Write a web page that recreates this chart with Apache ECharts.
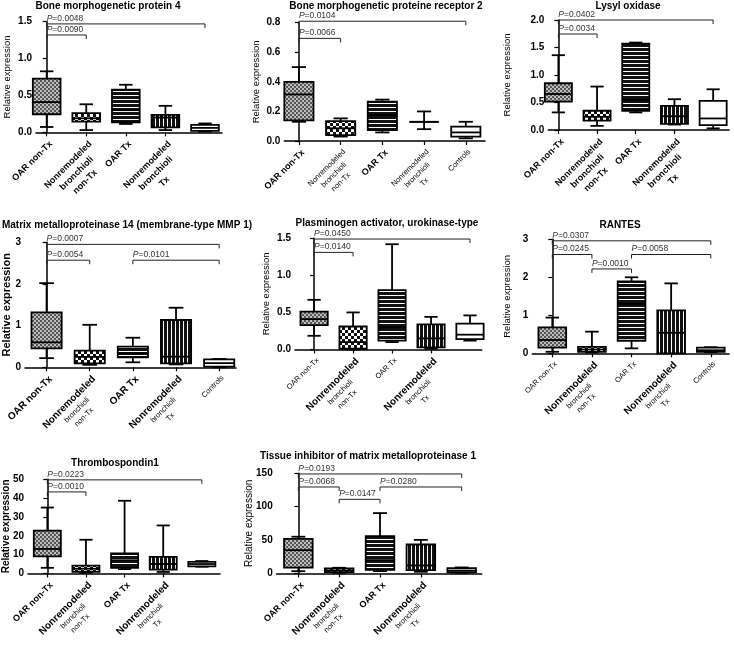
<!DOCTYPE html>
<html><head><meta charset="utf-8">
<script src="https://cdn.jsdelivr.net/npm/echarts@6/dist/echarts.min.js"></script>
<style>html,body{margin:0;padding:0;background:#fff}#c{width:734px;height:653px}</style>
</head><body><div id="c"></div>
<script>
// ---------- DATA ----------
const groups = ['OAR non-Tx', 'Nonremodeled\nbronchioli\nnon-Tx', 'OAR Tx', 'Nonremodeled\nbronchioli\nTx', 'Controls'];
// each row: [min, q1, median, q3, max]
const bmp4 = [[0.072,0.245,0.41,0.727,0.827],[0.03,0.145,0.19,0.26,0.38],[0.113,0.136,0.30,0.577,0.645],[0.03,0.068,0.20,0.236,0.359],[0.01,0.02,0.06,0.10,0.12]];
const bmpr2 = [[0.13,0.14,0.315,0.40,0.50],[0.03,0.04,0.086,0.135,0.153],[0.058,0.074,0.175,0.266,0.28],[0.08,0.13,0.13,0.13,0.20],[0.018,0.03,0.058,0.097,0.13]];
const lox = [[0.32,0.515,0.655,0.85,1.36],[0.075,0.17,0.24,0.35,0.79],[0.32,0.35,0.55,1.57,1.59],[0.10,0.11,0.25,0.44,0.56],[0.03,0.09,0.21,0.53,0.74]];
const mmp14 = [[0.22,0.455,0.6,1.32,2.02],[0.06,0.095,0.25,0.40,1.02],[0.12,0.24,0.335,0.495,0.71],[0.07,0.095,0.255,1.135,1.43],[0.0,0.015,0.1,0.19,0.2]];
const upa = [[0.185,0.33,0.41,0.51,0.67],[0.0,0.01,0.1,0.31,0.5],[0.10,0.12,0.30,0.80,1.42],[0.01,0.03,0.15,0.34,0.44],[0.12,0.14,0.20,0.35,0.46]];
const rantes = [[0.04,0.15,0.35,0.68,0.94],[0.02,0.04,0.10,0.17,0.57],[0.13,0.33,1.3,1.89,2.0],[0.0,0.0,0.54,1.13,1.84],[0.03,0.04,0.08,0.15,0.16]];
const thbs1 = [[3,9.1,13,22.7,35],[0.3,0.9,2.5,4.2,17.9],[2.3,3,7,10.7,38.6],[0.8,2,5,8.8,25.5],[3.6,3.8,5,6.2,6.6]];
const timp1 = [[3.4,8.6,34.9,51.7,55],[1,2.1,4.5,7.7,8.5],[3.5,5.5,20,56,90.4],[2.5,5,12,43.4,50.3],[1,1.5,4,7.8,9]];
// significance brackets: [fromGroup, toGroup, yLevel, p-value]
const bmp4P = [[0,4,1.47,'0.0048'],[0,1,1.32,'0.0090']];
const bmpr2P = [[0,4,0.81,'0.0104'],[0,1,0.694,'0.0066']];
const loxP = [[0,4,2.0,'0.0402'],[0,1,1.745,'0.0034']];
const mmp14P = [[0,4,2.95,'0.0007'],[0,1,2.57,'0.0054'],[2,4,2.57,'0.0101']];
const upaP = [[0,4,1.49,'0.0450'],[0,1,1.31,'0.0140']];
const rantesP = [[0,4,2.96,'0.0307'],[0,1,2.6,'0.0245'],[2,4,2.6,'0.0058'],[1,2,2.22,'0.0010']];
const thbs1P = [[0,4,49.7,'0.0223'],[0,1,43.3,'0.0010']];
const timp1P = [[0,4,149,'0.0193'],[0,1,129.5,'0.0068'],[2,4,129.5,'0.0280'],[1,2,111,'0.0147']];
// y-axis ticks: [max, interval, decimals]
const bmp4Y = [1.5,0.5,1], bmpr2Y = [0.8,0.2,1], loxY = [2,0.5,1], mmp14Y = [3,1,0];
const upaY = [1.5,0.5,1], rantesY = [3,1,0], thbs1Y = [50,10,0], timp1Y = [150,50,0];

// ---------- STYLE / LAYOUT ----------
const FF = '"Liberation Sans", Arial, sans-serif';
function mkPattern(w, h, draw) {
  const c = document.createElement('canvas'); c.width = w; c.height = h;
  const g = c.getContext('2d'); draw(g);
  return {image: c, repeat: 'repeat'};
}
const patterns = [
  mkPattern(4,4,g=>{g.fillStyle='#bdbdbd';g.fillRect(0,0,4,4);g.fillStyle='#555';g.fillRect(0,0,2,2);g.fillRect(2,2,2,2);}),
  mkPattern(6,6,g=>{g.fillStyle='#111';g.fillRect(0,0,6,6);g.fillStyle='#fff';g.fillRect(0,0,3,3);g.fillRect(3,3,3,3);}),
  mkPattern(4,4,g=>{g.fillStyle='#111';g.fillRect(0,0,4,4);g.fillStyle='#fff';g.fillRect(0,3,4,1);}),
  mkPattern(4,4,g=>{g.fillStyle='#111';g.fillRect(0,0,4,4);g.fillStyle='#fff';g.fillRect(3,0,1,4);}),
  '#ffffff'
];
const panels = [
  {title:'Bone morphogenetic protein 4', tx:108, ty:1, d:bmp4, p:bmp4P, y:bmp4Y, left:36, top:21.7, width:186, height:110.6, xmin:-0.27, xmax:4.43, gap:24, nfs:9.5, nfw:'normal', first:['M','M','M','M','M'], rest:'M'},
  {title:'Bone morphogenetic proteine receptor 2', tx:386, ty:1, d:bmpr2, p:bmpr2P, y:bmpr2Y, left:284.3, top:22.7, width:200.7, height:118.3, xmin:-0.35, xmax:4.46, gap:23, nfs:9.5, nfw:'normal', first:['M','S','M','S','S'], rest:'S'},
  {title:'Lysyl oxidase', tx:628, ty:1, d:lox, p:loxP, y:loxY, left:548.3, top:20, width:180.7, height:110, xmin:-0.26, xmax:4.41, gap:36, nfs:9.5, nfw:'normal', first:['M','M','M','M','M'], rest:'M'},
  {title:'Matrix metalloproteinase 14 (membrane-type MMP 1)', tx:127, ty:220, d:mmp14, p:mmp14P, y:mmp14Y, left:24, top:242.3, width:212, height:125, xmin:-0.5, xmax:4.39, gap:13, nfs:11, nfw:'bold', first:['L','L','L','L','S'], rest:'S'},
  {title:'Plasminogen activator, urokinase-type', tx:387, ty:218, d:upa, p:upaP, y:upaY, left:295, top:238.3, width:186.7, height:111.2, xmin:-0.49, xmax:4.3, gap:24, nfs:9.5, nfw:'normal', first:['S','L','S','L','S'], rest:'S'},
  {title:'RANTES', tx:620, ty:220, d:rantes, p:rantesP, y:rantesY, left:532.3, top:239.3, width:196.7, height:114, xmin:-0.505, xmax:4.46, gap:20, nfs:9.5, nfw:'normal', first:['S','L','S','L','S'], rest:'S'},
  {title:'Thrombospondin1', tx:115, ty:458, d:thbs1, p:thbs1P, y:thbs1Y, left:27.3, top:479.3, width:192.7, height:110, xmin:-0.5, xmax:4.47, gap:17, nfs:10, nfw:'bold', first:['M','L','M','L','M'], rest:'S'},
  {title:'Tissue inhibitor of matrix metalloproteinase 1', tx:368, ty:451, d:timp1, p:timp1P, y:timp1Y, left:276.7, top:473.3, width:205, height:116, xmin:-0.53, xmax:4.49, gap:22, nfs:10, nfw:'normal', first:['M','L','M','L','M'], rest:'S'}
];
const rich = {
  L:{fontSize:10, fontWeight:'bold', fontFamily:FF, color:'#000', align:'center', lineHeight:12},
  M:{fontSize:9, fontWeight:'bold', fontFamily:FF, color:'#000', align:'center', lineHeight:12},
  S:{fontSize:7.5, fontWeight:'normal', fontFamily:FF, color:'#000', align:'center', lineHeight:10}
};

function boxRender(params, api) {
  const i = params.dataIndex;
  const x = api.value(0);
  const v = [api.value(1), api.value(2), api.value(3), api.value(4), api.value(5)];
  const xl = api.coord([x - 0.35, 0])[0], xr = api.coord([x + 0.35, 0])[0];
  const cl = api.coord([x - 0.17, 0])[0], cr = api.coord([x + 0.17, 0])[0];
  const xc = api.coord([x, 0])[0];
  const y = v.map(t => api.coord([x, t])[1]);
  const ls = {stroke:'#000', lineWidth:1.8};
  return {type:'group', children:[
    {type:'line', shape:{x1:xc, y1:y[4], x2:xc, y2:y[3]}, style:ls},
    {type:'line', shape:{x1:cl, y1:y[4], x2:cr, y2:y[4]}, style:ls},
    {type:'line', shape:{x1:xc, y1:y[1], x2:xc, y2:y[0]}, style:ls},
    {type:'line', shape:{x1:cl, y1:y[0], x2:cr, y2:y[0]}, style:ls},
    {type:'rect', shape:{x:xl, y:y[3], width:xr - xl, height:y[1] - y[3]}, style:{fill:patterns[i], stroke:'#000', lineWidth:1.8}},
    {type:'line', shape:{x1:xl, y1:y[2], x2:xr, y2:y[2]}, style:ls}
  ]};
}
function bracketRender(list) {
  return function (params, api) {
    const b = list[params.dataIndex];
    const p1 = api.coord([b[0], b[2]]), p2 = api.coord([b[1], b[2]]);
    return {type:'group', children:[
      {type:'polyline', shape:{points:[[p1[0], p1[1] + 4], [p1[0], p1[1]], [p2[0], p2[1]], [p2[0], p2[1] + 4]]}, style:{stroke:'#222', lineWidth:1, fill:'none'}},
      {type:'text', style:{x:p1[0], y:p1[1] - 1, text:'{i|P}=' + b[3], fontSize:8.5, fontFamily:FF, fill:'#333', align:'left', verticalAlign:'bottom',
        rich:{i:{fontStyle:'italic', fontSize:8.5, fontFamily:FF, fill:'#333'}}}}
    ]};
  };
}

const option = {animation:false, backgroundColor:'#fff', title:[], grid:[], xAxis:[], yAxis:[], series:[]};
panels.forEach((P, k) => {
  option.title.push({text:P.title, left:P.tx, top:P.ty, textAlign:'center', padding:0,
    textStyle:{fontSize:10, fontWeight:'bold', fontFamily:FF, color:'#000'}});
  option.grid.push({left:P.left, top:P.top, width:P.width, height:P.height, containLabel:false});
  option.xAxis.push({type:'value', gridIndex:k, min:P.xmin, max:P.xmax, splitLine:{show:false},
    axisLine:{show:true, onZero:false, lineStyle:{color:'#000', width:1.5}},
    axisTick:{show:true, customValues:[0,1,2,3,4], length:4, lineStyle:{color:'#000', width:1.2}},
    axisLabel:{show:true, customValues:[0,1,2,3,4], rotate:45, margin:6, align:'right', verticalAlign:'top', rich:rich,
      formatter:(v) => { const i = Math.round(v); return groups[i].split('\n').map((l, j) => '{' + (j === 0 ? P.first[i] : P.rest) + '|' + l + '}').join('\n'); }}});
  option.yAxis.push({type:'value', gridIndex:k, min:0, max:P.y[0], interval:P.y[1], splitLine:{show:false},
    name:'Relative expression', nameLocation:'middle', nameGap:P.gap, nameMoveOverlap:false,
    nameTextStyle:{fontSize:P.nfs, fontWeight:P.nfw, fontFamily:FF, color:'#000'},
    axisLine:{show:true, lineStyle:{color:'#000', width:1.5}},
    axisTick:{show:true, length:4, lineStyle:{color:'#000', width:1.2}},
    axisLabel:{fontSize:10, fontWeight:'bold', fontFamily:FF, color:'#000', margin:4, formatter:(v) => v.toFixed(P.y[2])}});
  option.series.push({type:'custom', xAxisIndex:k, yAxisIndex:k, clip:false, renderItem:boxRender,
    encode:{x:0, y:[1,2,3,4,5]}, data:P.d.map((r, i) => [i].concat(r))});
  option.series.push({type:'custom', xAxisIndex:k, yAxisIndex:k, clip:false, renderItem:bracketRender(P.p),
    encode:{x:[0,1], y:2}, data:P.p.map(b => [b[0], b[1], b[2]])});
});
const chart = echarts.init(document.getElementById('c'), null, {renderer:'canvas', width:734, height:653});
chart.setOption(option);
</script></body></html>
